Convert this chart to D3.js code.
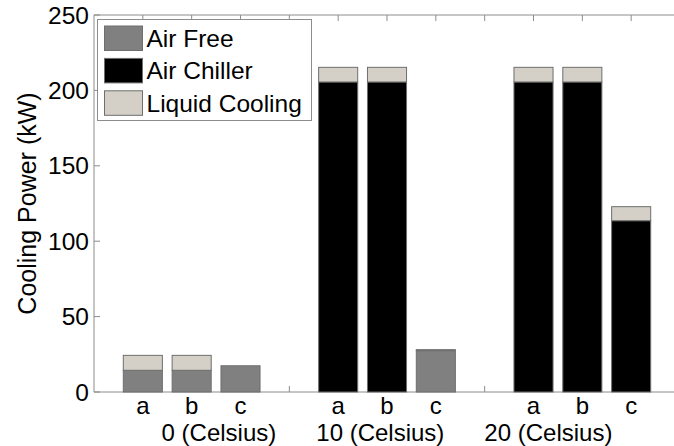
<!DOCTYPE html>
<html>
<head>
<meta charset="utf-8">
<script src="https://cdn.jsdelivr.net/npm/d3@7"></script>
<style>
  html, body { margin: 0; padding: 0; background: #fff; }
  svg { display: block; font-family: "Liberation Sans", Arial, sans-serif; }
</style>
</head>
<body>
<svg id="chart" width="674" height="446"></svg>
<script>
// Outdoor temperature groups and the three configurations in each
const groups = ["0 (Celsius)", "10 (Celsius)", "20 (Celsius)"];
const cases = ["a", "b", "c"];

// Stacked cooling power per bar (kW), ordered group by group
const airFree    = [14.4, 14.4, 17.4,   0.0,   0.0, 27.4,   0.0,   0.0,   0.0];
const airChiller = [ 0.0,  0.0,  0.0, 205.6, 205.6,  0.0, 205.6, 205.6, 113.6];
const liquid     = [ 9.9,  9.9,  0.0,   9.7,   9.7,  0.7,   9.7,   9.7,   9.3];

const seriesNames = ["Air Free", "Air Chiller", "Liquid Cooling"];
const seriesColors = ["#808080", "#000000", "#d4d0c8"];
const yTicks = [0, 50, 100, 150, 200, 250];

const svg = d3.select("#chart");
const margin = { left: 94, right: 680, top: 15, bottom: 392 };

// x runs over slot positions 0..12; each group takes three slots plus a gap
const x = d3.scaleLinear().domain([0, 12]).range([margin.left, margin.right]);
const y = d3.scaleLinear().domain([0, 250]).range([margin.bottom, margin.top]);
const barWidth = 0.8;
const tickLen = 6;
const fontSize = 24.5;

const rows = [];
groups.forEach((g, gi) => {
  cases.forEach((c, ci) => {
    const k = gi * cases.length + ci;
    rows.push({ group: g, label: c, pos: gi * 4 + ci + 1,
      "Air Free": airFree[k], "Air Chiller": airChiller[k], "Liquid Cooling": liquid[k] });
  });
});
const stacked = d3.stack().keys(seriesNames)(rows);

const axisColor = "#8c8c8c";
const axes = svg.append("g");

// Box outline
axes.append("line").attr("x1", x(0)).attr("x2", x(12)).attr("y1", y(0)).attr("y2", y(0))
  .attr("stroke", axisColor);
axes.append("line").attr("x1", x(0)).attr("x2", x(12)).attr("y1", y(250)).attr("y2", y(250))
  .attr("stroke", axisColor);
axes.append("line").attr("x1", x(0)).attr("x2", x(0)).attr("y1", y(0)).attr("y2", y(250))
  .attr("stroke", axisColor);
axes.append("line").attr("x1", x(12)).attr("x2", x(12)).attr("y1", y(0)).attr("y2", y(250))
  .attr("stroke", axisColor);

// Inward ticks on all four sides
const xTickPos = d3.range(1, 12);
axes.selectAll(".xtb").data(xTickPos).join("line")
  .attr("x1", d => x(d)).attr("x2", d => x(d))
  .attr("y1", y(0)).attr("y2", y(0) - tickLen).attr("stroke", axisColor);
axes.selectAll(".xtt").data(xTickPos).join("line")
  .attr("x1", d => x(d)).attr("x2", d => x(d))
  .attr("y1", y(250)).attr("y2", y(250) + tickLen).attr("stroke", axisColor);
axes.selectAll(".ytl").data(yTicks).join("line")
  .attr("x1", x(0)).attr("x2", x(0) + tickLen)
  .attr("y1", d => y(d)).attr("y2", d => y(d)).attr("stroke", axisColor);
axes.selectAll(".ytr").data(yTicks).join("line")
  .attr("x1", x(12)).attr("x2", x(12) - tickLen)
  .attr("y1", d => y(d)).attr("y2", d => y(d)).attr("stroke", axisColor);

// Y tick labels
svg.append("g").selectAll("text").data(yTicks).join("text")
  .attr("x", x(0) - 5).attr("y", d => y(d)).attr("dy", "0.35em")
  .attr("text-anchor", "end").attr("font-size", fontSize).attr("fill", "#000")
  .text(d => d);

// Stacked bars
const bars = svg.append("g");
stacked.forEach((layer, li) => {
  bars.selectAll(null).data(layer.filter(d => d[1] - d[0] > 0)).join("rect")
    .attr("x", d => x(d.data.pos - barWidth / 2))
    .attr("width", x(barWidth) - x(0))
    .attr("y", d => y(d[1]))
    .attr("height", d => y(d[0]) - y(d[1]))
    .attr("fill", seriesColors[li])
    .attr("stroke", "#6e6e6e").attr("stroke-width", 1);
});

// Category labels under each bar
svg.append("g").selectAll("text").data(rows).join("text")
  .attr("x", d => x(d.pos)).attr("y", 413.5)
  .attr("text-anchor", "middle").attr("font-size", 24).attr("fill", "#000")
  .text(d => d.label);

// Group caption as one centred line
svg.append("text")
  .attr("x", (x(0) + x(12)) / 2).attr("y", 440.5)
  .attr("text-anchor", "middle").attr("font-size", 24).attr("fill", "#000")
  .style("white-space", "pre")
  .text(groups.join("      "));

// Y axis title
svg.append("text")
  .attr("transform", `translate(36, ${(y(0) + y(250)) / 2}) rotate(-90)`)
  .attr("text-anchor", "middle").attr("font-size", 25).attr("fill", "#000")
  .text("Cooling Power (kW)");

// Legend
const legend = svg.append("g");
legend.append("rect").attr("x", 97.5).attr("y", 19.5).attr("width", 214).attr("height", 101)
  .attr("fill", "#fff").attr("stroke", axisColor);
seriesNames.forEach((name, i) => {
  const top = 26 + i * 32.4;
  legend.append("rect").attr("x", 104.5).attr("y", top).attr("width", 38).attr("height", 24.5)
    .attr("fill", seriesColors[i]).attr("stroke", "#6e6e6e");
  legend.append("text").attr("x", 146.5).attr("y", top + 12.5).attr("dy", "0.35em")
    .attr("font-size", fontSize).attr("fill", "#000").text(name);
});
</script>
</body>
</html>
